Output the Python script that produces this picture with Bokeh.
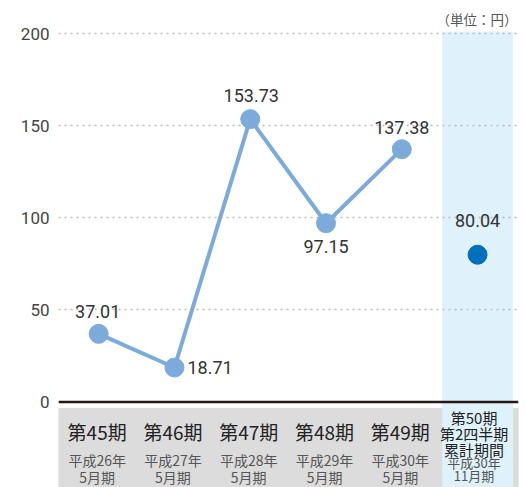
from bokeh.plotting import figure
from bokeh.models import Range1d, FixedTicker, ColumnDataSource, Span
from bokeh.embed import file_html
from bokeh.resources import INLINE
from bokeh.core.properties import value

# ---- data ----
periods = ["第45期", "第46期", "第47期", "第48期", "第49期", "第50期\n第2四半期\n累計期間"]
dates = ["平成26年\n5月期", "平成27年\n5月期", "平成28年\n5月期", "平成29年\n5月期",
         "平成30年\n5月期", "平成30年\n11月期"]
eps = [37.01, 18.71, 153.73, 97.15, 137.38, 80.04]
y_ticks = [0, 50, 100, 150, 200]
unit_label = "（単位：円）"

# ---- layout / style ----
N = len(eps)
xs = list(range(N))
X0, X1 = -0.53, N - 1 + 0.54
Y0, Y1 = -46.5, 218.2
LINE_C = "#7BAADB"
DARK_C = "#0070BC"
GRAY_BG = "#DCDCDC"
BLUE_BG = "#DFF1FA"
JP = value("Noto Sans CJK JP")

p = figure(width=526, height=487, output_backend="svg", toolbar_location=None,
           x_range=Range1d(X0, X1), y_range=Range1d(Y0, Y1),
           x_axis_location=None,
           min_border_left=58, min_border_right=8, min_border_top=0, min_border_bottom=0)
p.outline_line_color = None
p.xgrid.visible = False

yax = p.yaxis[0]
yax.ticker = FixedTicker(ticks=y_ticks)
yax.axis_line_color = None
yax.major_tick_line_color = None
yax.minor_tick_line_color = None
yax.major_tick_out = 0
yax.major_tick_in = 0
yax.major_label_standoff = 9
yax.major_label_text_font = "Roboto"
yax.major_label_text_font_size = "17px"
yax.major_label_text_color = "#444444"

p.ygrid.ticker = FixedTicker(ticks=[t for t in y_ticks if t > 0])
p.ygrid.grid_line_color = "#BBBBBB"
p.ygrid.grid_line_dash = "2 4"
p.ygrid.grid_line_width = 1.5

# background bands
p.quad(left=[X0], right=[X1], top=[-3.5], bottom=[Y0], color=GRAY_BG, level="image")
p.quad(left=[xs[-1] - 0.46], right=[xs[-1] + 0.46], top=[201], bottom=[Y0],
       color=BLUE_BG, level="image")

# zero line
p.add_layout(Span(location=0, dimension="width", line_color="#231815", line_width=2.5))

# series
p.line(xs[:-1], eps[:-1], line_color=LINE_C, line_width=4)
p.scatter(xs[:-1], eps[:-1], size=19, color=LINE_C)
p.scatter(xs[-1:], eps[-1:], size=19, color=DARK_C)

# value labels
val_src = ColumnDataSource(dict(
    x=xs, y=eps, t=[f"{v:.2f}" for v in eps],
    dx=[-1, 13, 1, 0, 0, 0],
    dy=[-22, 0, -23.5, 23.5, -22, -34],
    al=["center", "left", "center", "center", "center", "center"],
))
p.text(x="x", y="y", text="t", source=val_src, x_offset="dx", y_offset="dy",
       text_align="al", text_baseline="middle", text_font=value("Roboto"),
       text_font_size="18px", text_color="#333333")

# category labels: one text per line
lx, ly, lt, ldx, ldy, lsz, lcol = [], [], [], [], [], [], []
for i in xs:
    last = (i == N - 1)
    p_lines = periods[i].split("\n")
    d_lines = dates[i].split("\n")
    if last:
        p_start, p_step, p_size = 16, 16, "15px"
        d_start, d_step, d_size = 61, 13, "13px"
        dx = -3.5
    else:
        p_start, p_step, p_size = 29.5, 16.5, "19px"
        d_start, d_step, d_size = 58.5, 16.5, "14px"
        dx = -1.5
    for k, s in enumerate(p_lines):
        lx.append(i); ly.append(0); lt.append(s); ldx.append(dx)
        ldy.append(p_start + k * p_step); lsz.append(p_size); lcol.append("#222222")
    for k, s in enumerate(d_lines):
        lx.append(i); ly.append(0); lt.append(s); ldx.append(dx)
        ldy.append(d_start + k * d_step); lsz.append(d_size); lcol.append("#555555")

cat_src = ColumnDataSource(dict(x=lx, y=ly, t=lt, dx=ldx, dy=ldy, sz=lsz, col=lcol))
p.text(x="x", y="y", text="t", source=cat_src, x_offset="dx", y_offset="dy",
       text_align="center", text_baseline="middle", text_font=JP,
       text_font_size="sz", text_color="col")

# unit label
p.text(x=[X1], y=[Y1], text=[unit_label], x_offset=-1, y_offset=18.5,
       text_align="right", text_baseline="middle", text_font=JP,
       text_font_size="13.5px", text_color="#555555")

open("out.html", "w").write(file_html(p, INLINE))
